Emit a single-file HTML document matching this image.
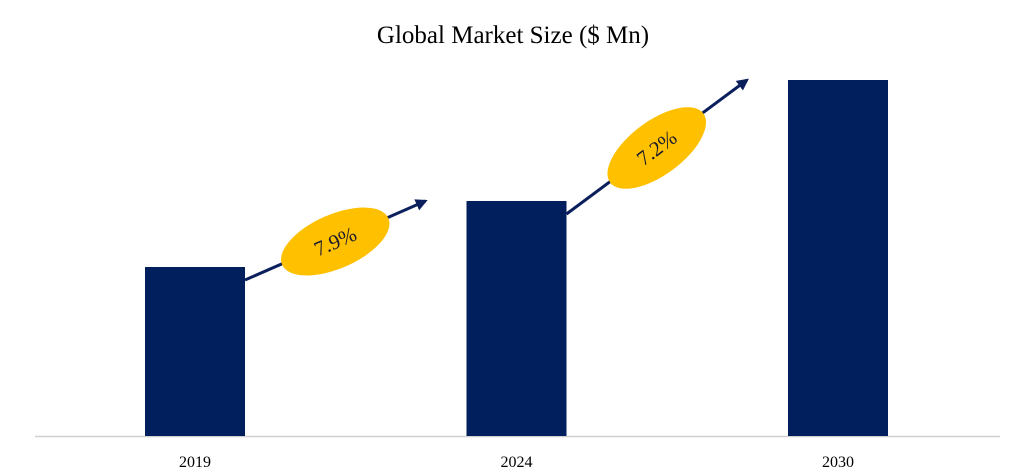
<!DOCTYPE html>
<html><head><meta charset="utf-8"><style>
html,body{margin:0;padding:0;background:#fff;}
svg{display:block;}
</style></head><body>
<svg id="chart" width="1029" height="472" viewBox="0 0 1029 472" xmlns="http://www.w3.org/2000/svg" font-family="'Liberation Serif', serif">
<defs><marker id="ah" viewBox="0 0 10 10" refX="8" refY="5" markerWidth="4" markerHeight="4" orient="auto"><path d="M0,0 L10,5 L0,10 z" fill="#0a1f5c"/></marker></defs>
<text x="513" y="43" text-anchor="middle" font-size="25" fill="#000">Global  Market Size ($ Mn)</text>
<line x1="35" y1="436.5" x2="1000" y2="436.5" stroke="#d0d0d0" stroke-width="1.5"/>
<g id="bars"></g>
<g id="cagr"></g>
</svg>
<script>
const categories = ["2019", "2024", "2030"];
const values = [169, 235, 356];
const cagrLabels = ["7.9%", "7.2%"];
const svgNS = "http://www.w3.org/2000/svg";
const baseY = 436, plotTop = 80, maxV = 356;
function yScale(v){ return baseY - v/maxV*(baseY-plotTop); }
function xCenter(i){ return 195 + i*321.5; }
const barW = 100;
const bars = document.getElementById('bars');
categories.forEach((c,i)=>{
  const r = document.createElementNS(svgNS,'rect');
  
  
  r.setAttribute('x', xCenter(i)-barW/2);
  r.setAttribute('y', yScale(values[i]));
  r.setAttribute('width', barW);
  r.setAttribute('height', baseY - yScale(values[i]));
  r.setAttribute('fill', '#001f5c');
  bars.appendChild(r);
  const t = document.createElementNS(svgNS,'text');
  
  
  t.setAttribute('x', xCenter(i));
  t.setAttribute('y', 467);
  t.setAttribute('text-anchor', 'middle');
  t.setAttribute('font-size', '16');
  t.textContent = c;
  bars.appendChild(t);
});
const g = document.getElementById('cagr');
cagrLabels.forEach((lab,i)=>{
  const x1 = xCenter(i)+barW/2, y1 = yScale(values[i]) + 13;
  const x2 = xCenter(i+1)-barW/2 - 41, y2 = yScale(values[i+1]) + 0;
  const ln = document.createElementNS(svgNS,'line');
  
  
  ln.setAttribute('x1', x1); ln.setAttribute('y1', y1);
  ln.setAttribute('x2', x2); ln.setAttribute('y2', y2);
  ln.setAttribute('stroke', '#0a1f5c'); ln.setAttribute('stroke-width', '3');
  ln.setAttribute('marker-end', 'url(#ah)');
  g.appendChild(ln);
  const cx = (x1+x2)/2 - 0, cy = (y1+y2)/2 + 1;
  const ang = Math.atan2(y2-y1, x2-x1)*180/Math.PI;
  const e = document.createElementNS(svgNS,'ellipse');
  
  
  e.setAttribute('cx', cx); e.setAttribute('cy', cy);
  e.setAttribute('rx', 58); e.setAttribute('ry', 27);
  e.setAttribute('fill', '#ffc000');
  e.setAttribute('transform', 'rotate(' + ang + ' ' + cx + ' ' + cy + ')');
  g.appendChild(e);
  const t = document.createElementNS(svgNS,'text');
  
  
  t.setAttribute('x', cx); t.setAttribute('y', cy+7);
  t.setAttribute('text-anchor', 'middle');
  t.setAttribute('font-size', '21');
  t.setAttribute('fill', '#1a1a2e');
  t.setAttribute('transform', 'rotate(' + ang + ' ' + cx + ' ' + cy + ')');
  t.textContent = lab;
  g.appendChild(t);
});
</script>
</body></html>
